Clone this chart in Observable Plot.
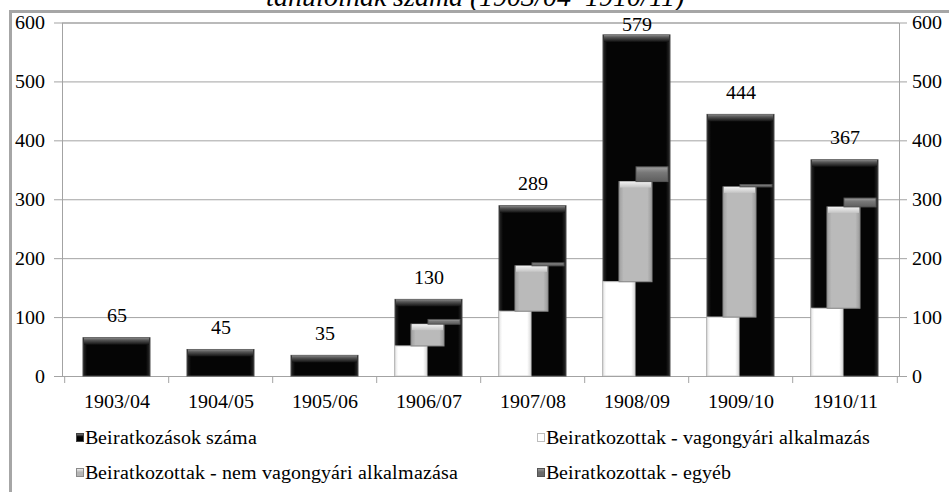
<!DOCTYPE html>
<html>
<head>
<meta charset="utf-8">
<script src="https://cdn.jsdelivr.net/npm/d3@7"></script>
<script src="https://cdn.jsdelivr.net/npm/@observablehq/plot@0.6"></script>
<style>
  @font-face { font-family: "RefSerif"; src: local("Liberation Serif"), local("LiberationSerif"), local("LiberationSerif-Regular"); font-style: normal; }
  @font-face { font-family: "RefSerif"; src: local("Liberation Serif Italic"), local("LiberationSerif-Italic"); font-style: italic; }
  html, body { margin: 0; padding: 0; background: #fff; }
  #wrap { position: relative; width: 949px; height: 492px; overflow: hidden; }
  #border { position: absolute; left: 9px; top: 10px; width: 1000px; height: 600px; border-left: 3px solid #a6a6a6; border-top: 3px solid #a6a6a6; box-sizing: border-box; z-index: 2; pointer-events: none; }
  #title { position: absolute; left: 0; width: 949px; top: -17px; text-align: center; font-style: italic; font-size: 28px; line-height: 28px; }
  #chart { position: absolute; left: 0; top: 0; z-index: 1; }
  .lg { position: absolute; font-size: 20px; line-height: 20px; white-space: nowrap; color: #000; }
  .sw { position: absolute; width: 8px; height: 9px; box-sizing: border-box; }
</style>
</head>
<body>
<div id="wrap" style="font-family:RefSerif, 'Liberation Serif', serif">
  <div id="title" style="font-family:RefSerif, 'Liberation Serif', serif"></div>
  <div id="chart"></div>
  <div id="border"></div>
  <div id="legend" style="font-family:RefSerif, 'Liberation Serif', serif"></div>
</div>
<script>
// ---- data ----
const years = ["1903/04", "1904/05", "1905/06", "1906/07", "1907/08", "1908/09", "1909/10", "1910/11"];
const enrolled = [65, 45, 35, 130, 289, 579, 444, 367];          // Beiratkozások száma
const wagonWorks = [0, 0, 0, 51, 110, 160, 100, 115];           // vagongyári alkalmazás
const nonWagon = [0, 0, 0, 37, 77, 170, 221, 172];              // nem vagongyári alkalmazása
const otherJobs = [0, 0, 0, 8, 5, 25, 4, 15];                   // egyéb
const yTicks = [0, 100, 200, 300, 400, 500, 600];
const seriesNames = [
  "Beiratkozások száma",
  "Beiratkozottak - vagongyári alkalmazás",
  "Beiratkozottak - nem vagongyári alkalmazása",
  "Beiratkozottak - egyéb"
];
const titleText = "tanulóinak száma (1903/04–1910/11)";

// ---- tables ----
const rows = years.map((y, i) => ({
  year: y,
  total: enrolled[i],
  w0: 0, w1: wagonWorks[i],
  n0: wagonWorks[i], n1: wagonWorks[i] + nonWagon[i],
  o0: wagonWorks[i] + nonWagon[i], o1: wagonWorks[i] + nonWagon[i] + otherJobs[i],
  has: wagonWorks[i] + nonWagon[i] + otherJobs[i] > 0
}));
const subRows = rows.filter(d => d.has);

document.getElementById("title").textContent = titleText;

const W = 949, H = 415, mL = 62, mR = 50, mT = 22.5, mB = 39;
const step = (W - mL - mR) / years.length;
const grid = "#a3a3a3";
const serif = "RefSerif, 'Liberation Serif', serif";

const chart = Plot.plot({
  width: W, height: H,
  marginLeft: mL, marginRight: mR, marginTop: mT, marginBottom: mB,
  style: "background: transparent; font-family: RefSerif, 'Liberation Serif', serif; font-size: 20px; color: #000;",
  x: { type: "band", domain: years, paddingInner: 0.36, paddingOuter: 0.18, label: null },
  y: { domain: [0, 600], label: null },
  marks: [
    Plot.gridY(yTicks, { stroke: grid, strokeOpacity: 1 }),
    Plot.frame({ stroke: grid }),
    Plot.ruleX(years, { x: d => d, dx: -step / 2, y1: 0, y2: 0, insetBottom: -7, stroke: grid }),
    Plot.ruleX(years.slice(-1), { x: d => d, dx: step / 2, y1: 0, y2: 0, insetBottom: -7, stroke: grid }),
    Plot.axisY(yTicks, { anchor: "left", tickSize: 8, tickPadding: 10, stroke: grid, fill: "#000", fontSize: 20, fontFamily: serif }),
    Plot.axisY(yTicks, { anchor: "right", tickSize: 7, tickPadding: 5, stroke: grid, fill: "#000", fontSize: 20, fontFamily: serif }),
    Plot.axisX({ tickSize: 0, tickPadding: 17, fill: "#000", fontSize: 20, fontFamily: serif }),
    Plot.barY(rows, { x: "year", y1: 0, y2: "total", fill: "url(#gBlack)", stroke: "#4a4a4a", strokeWidth: 1 }),
    Plot.barY(rows, { x: "year", y1: "total", y2: "total", insetBottom: -7, insetLeft: 1, insetRight: 1, fill: "url(#gBlackTop)" }),
    Plot.barY(subRows, { x: "year", y1: "w0", y2: "w1", insetLeft: 0, insetRight: 35, fill: "url(#gWhite)", stroke: "#cfcfcf" }),
    Plot.barY(subRows, { x: "year", y1: "n0", y2: "n1", insetLeft: 16, insetRight: 18, fill: "url(#gGray)", stroke: "#8a8a8a" }),
    Plot.barY(subRows, { x: "year", y1: "n1", y2: "n1", insetBottom: -6, insetLeft: 17, insetRight: 19, fill: "url(#gGrayTop)" }),
    Plot.barY(subRows, { x: "year", y1: "o0", y2: "o1", insetLeft: 33, insetRight: 2, fill: "url(#gDark)", stroke: "#555" }),
    Plot.text(rows, { x: "year", y: d => Math.min(d.total, 559), text: d => String(d.total), dy: -16, lineAnchor: "bottom", fontSize: 20, fontFamily: serif, fill: "#000" })
  ]
});

const defs = document.createElementNS("http://www.w3.org/2000/svg", "defs");
defs.innerHTML = `
  <linearGradient id="gBlack" x1="0" x2="1" y1="0" y2="0">
    <stop offset="0" stop-color="#2a2a2a"/><stop offset="0.06" stop-color="#050505"/>
    <stop offset="0.94" stop-color="#050505"/><stop offset="1" stop-color="#2a2a2a"/>
  </linearGradient>
  <linearGradient id="gBlackTop" x1="0" x2="0" y1="0" y2="1">
    <stop offset="0" stop-color="#8a8a8a"/><stop offset="0.35" stop-color="#555"/><stop offset="1" stop-color="#111"/>
  </linearGradient>
  <linearGradient id="gWhite" x1="0" x2="1" y1="0" y2="0">
    <stop offset="0" stop-color="#e6e6e6"/><stop offset="0.1" stop-color="#fff"/>
    <stop offset="0.88" stop-color="#fff"/><stop offset="1" stop-color="#d9d9d9"/>
  </linearGradient>
  <linearGradient id="gGray" x1="0" x2="1" y1="0" y2="0">
    <stop offset="0" stop-color="#9e9e9e"/><stop offset="0.14" stop-color="#bababa"/>
    <stop offset="0.86" stop-color="#bababa"/><stop offset="1" stop-color="#9a9a9a"/>
  </linearGradient>
  <linearGradient id="gGrayTop" x1="0" x2="0" y1="0" y2="1">
    <stop offset="0" stop-color="#f2f2f2"/><stop offset="1" stop-color="#c4c4c4"/>
  </linearGradient>
  <linearGradient id="gDark" x1="0" x2="0" y1="0" y2="1">
    <stop offset="0" stop-color="#a0a0a0"/><stop offset="0.4" stop-color="#777"/><stop offset="1" stop-color="#5e5e5e"/>
  </linearGradient>`;
chart.insertBefore(defs, chart.firstChild);
document.getElementById("chart").appendChild(chart);

// ---- legend ----
const swatchStyles = [
  "background:linear-gradient(#777,#000 40%);border:1px solid #444;",
  "background:#fff;border:1px solid #bdbdbd;",
  "background:linear-gradient(#eee,#b5b5b5 45%);border:1px solid #8a8a8a;",
  "background:linear-gradient(#999,#6a6a6a 45%);border:1px solid #555;"
];
const legendPos = [[76, 427], [537, 427], [76, 462], [537, 462]];
const lg = document.getElementById("legend");
seriesNames.forEach((name, i) => {
  const [lx, ly] = legendPos[i];
  const sw = document.createElement("div");
  sw.className = "sw";
  sw.style.cssText = `left:${lx}px;top:${ly + 6}px;` + swatchStyles[i];
  lg.appendChild(sw);
  const t = document.createElement("div");
  t.className = "lg";
  t.style.left = (lx + 9) + "px";
  t.style.top = ly + "px";
  t.style.fontFamily = serif;
  t.textContent = name;
  lg.appendChild(t);
});
</script>
</body>
</html>
